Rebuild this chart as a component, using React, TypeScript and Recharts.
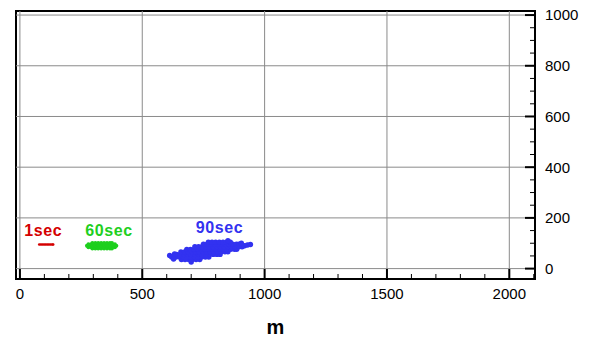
import React from 'react';
import { ScatterChart, Scatter, XAxis, YAxis, ReferenceLine, ReferenceArea, Label } from 'recharts';

const FONT = '"Liberation Sans", Arial, sans-serif';

const xTicks = [0, 100, 200, 300, 400, 500, 600, 700, 800, 900, 1000, 1100, 1200, 1300, 1400, 1500, 1600, 1700, 1800, 1900, 2000, 2100];
const xMajor = [0, 500, 1000, 1500, 2000];
const yTicks = [0, 50, 100, 150, 200, 250, 300, 350, 400, 450, 500, 550, 600, 650, 700, 750, 800, 850, 900, 950, 1000];
const yMajor = [0, 200, 400, 600, 800, 1000];

// 1 sec: short red streak
const oneSecRows = [
  { y: 95, xs: [79, 85, 91, 97, 103, 109, 115, 121, 127, 133, 136] },
];

// 60 sec: small green cloud
const sixtySecRows = [
  { y: 79, xs: [296, 308, 320, 332, 344, 356, 368, 376] },
  { y: 84, xs: [280, 292, 304, 316, 328, 340, 352, 364, 376, 388] },
  { y: 90, xs: [274, 286, 298, 310, 322, 334, 346, 358, 370, 382, 394] },
  { y: 96, xs: [280, 292, 304, 316, 328, 340, 352, 364, 376, 388] },
  { y: 101, xs: [296, 308, 320, 332, 344, 356, 368, 376] },
];

// 90 sec: tilted blue cloud
const ninetySecRows = [
  { y: 36, xs: [660, 675, 690, 705, 720, 735] },
  { y: 46, xs: [638, 653, 668, 683, 698, 713, 728, 743, 758, 772] },
  { y: 56, xs: [640, 655, 670, 685, 700, 715, 730, 745, 760, 775, 790, 805, 818] },
  { y: 66, xs: [658, 673, 688, 703, 718, 733, 748, 763, 778, 793, 808, 823, 838, 850] },
  { y: 76, xs: [682, 697, 712, 727, 742, 757, 772, 787, 802, 817, 832, 847, 862, 877, 886] },
  { y: 86, xs: [715, 730, 745, 760, 775, 790, 805, 820, 835, 850, 865, 880, 895, 908] },
  { y: 96, xs: [750, 765, 780, 795, 810, 825, 840, 855, 870, 885, 895] },
  { y: 104, xs: [770, 785, 800, 815, 830, 845, 860] },
];
const ninetySecStray = [
  { x: 612, y: 52 }, { x: 620, y: 46 }, { x: 628, y: 38 }, { x: 632, y: 58 }, { x: 700, y: 26 },
  { x: 918, y: 90 }, { x: 930, y: 93 }, { x: 942, y: 95 }, { x: 850, y: 110 }, { x: 905, y: 100 },
];

const labels = [
  { text: '1sec', x: 95, y: 151, color: '#d40000' },
  { text: '60sec', x: 364, y: 151, color: '#1ecf1e' },
  { text: '90sec', x: 816, y: 162, color: '#3232f0' },
];

const toPoints = (rows: { y: number; xs: number[] }[]) =>
  rows.flatMap((r) => r.xs.map((x) => ({ x, y: r.y })));

const oneSec = toPoints(oneSecRows);
const sixtySec = toPoints(sixtySecRows);
const ninetySec = [...toPoints(ninetySecRows), ...ninetySecStray];

const XTick = ({ x, y, payload }: any) => {
  const major = xMajor.includes(payload.value);
  return (
    <g>
      <line x1={x} x2={x} y1={y} y2={y - (major ? 10 : 5)} stroke="#000" strokeWidth={major ? 2 : 1} />
      {major && (
        <text x={x} y={y + 20} textAnchor="middle" fontSize={15} fontFamily={FONT} fill="#000">
          {payload.value}
        </text>
      )}
    </g>
  );
};

const YTick = ({ x, y, payload }: any) => {
  const major = yMajor.includes(payload.value);
  return (
    <g>
      <line x1={x} x2={x - (major ? 10 : 5)} y1={y} y2={y} stroke="#000" strokeWidth={major ? 2 : 1} />
      {major && (
        <text x={x + 10} y={y} dy="0.36em" textAnchor="start" fontSize={15} fontFamily={FONT} fill="#000">
          {payload.value}
        </text>
      )}
    </g>
  );
};

const dot = (color: string, r: number) => (props: any) => (
  <circle cx={props.cx} cy={props.cy} r={r} fill={color} />
);

export default function App() {
  return (
    <div style={{ position: 'absolute', left: 0, top: 0, width: 594, height: 339, background: '#fff' }}>
      <ScatterChart width={594} height={339} margin={{ top: 11, right: 0, bottom: 0, left: 16 }}>
        <XAxis
          type="number"
          dataKey="x"
          domain={[-16, 2105]}
          ticks={xTicks}
          interval={0}
          tickSize={0}
          tickMargin={0}
          tickLine={false}
          axisLine={{ stroke: '#000', strokeWidth: 2 }}
          tick={<XTick />}
          height={60}
          allowDataOverflow
        >
          <Label
            value="m"
            position="insideBottom"
            offset={5}
            style={{ fontSize: 20, fontWeight: 'bold', fontFamily: FONT, fill: '#000' }}
          />
        </XAxis>
        <YAxis
          type="number"
          dataKey="y"
          orientation="right"
          domain={[-41, 1016]}
          ticks={yTicks}
          interval={0}
          tickSize={0}
          tickMargin={0}
          tickLine={false}
          axisLine={{ stroke: '#000', strokeWidth: 2 }}
          tick={<YTick />}
          width={59}
          allowDataOverflow
        />
        {xMajor.map((v) => (
          <ReferenceLine key={'gx' + v} x={v} stroke="#8a8a8a" strokeWidth={1} />
        ))}
        {yMajor.map((v) => (
          <ReferenceLine key={'gy' + v} y={v} stroke="#8a8a8a" strokeWidth={1} />
        ))}
        <ReferenceArea x1={-16} x2={2105} y1={-41} y2={1016} fill="none" stroke="#000" strokeWidth={2} />
        <Scatter data={oneSec} shape={dot('#d40000', 1.3)} isAnimationActive={false} />
        <Scatter data={sixtySec} shape={dot('#1ecf1e', 2)} isAnimationActive={false} />
        <Scatter data={ninetySec} shape={dot('#3232f0', 2.7)} isAnimationActive={false} />
        <Scatter
          data={labels}
          isAnimationActive={false}
          shape={(props: any) => (
            <text
              x={props.cx}
              y={props.cy}
              dy="0.36em"
              textAnchor="middle"
              fontSize={16}
              fontWeight="bold"
              letterSpacing={0.6}
              fontFamily={FONT}
              fill={props.payload.color}
            >
              {props.payload.text}
            </text>
          )}
        />
      </ScatterChart>
    </div>
  );
}
